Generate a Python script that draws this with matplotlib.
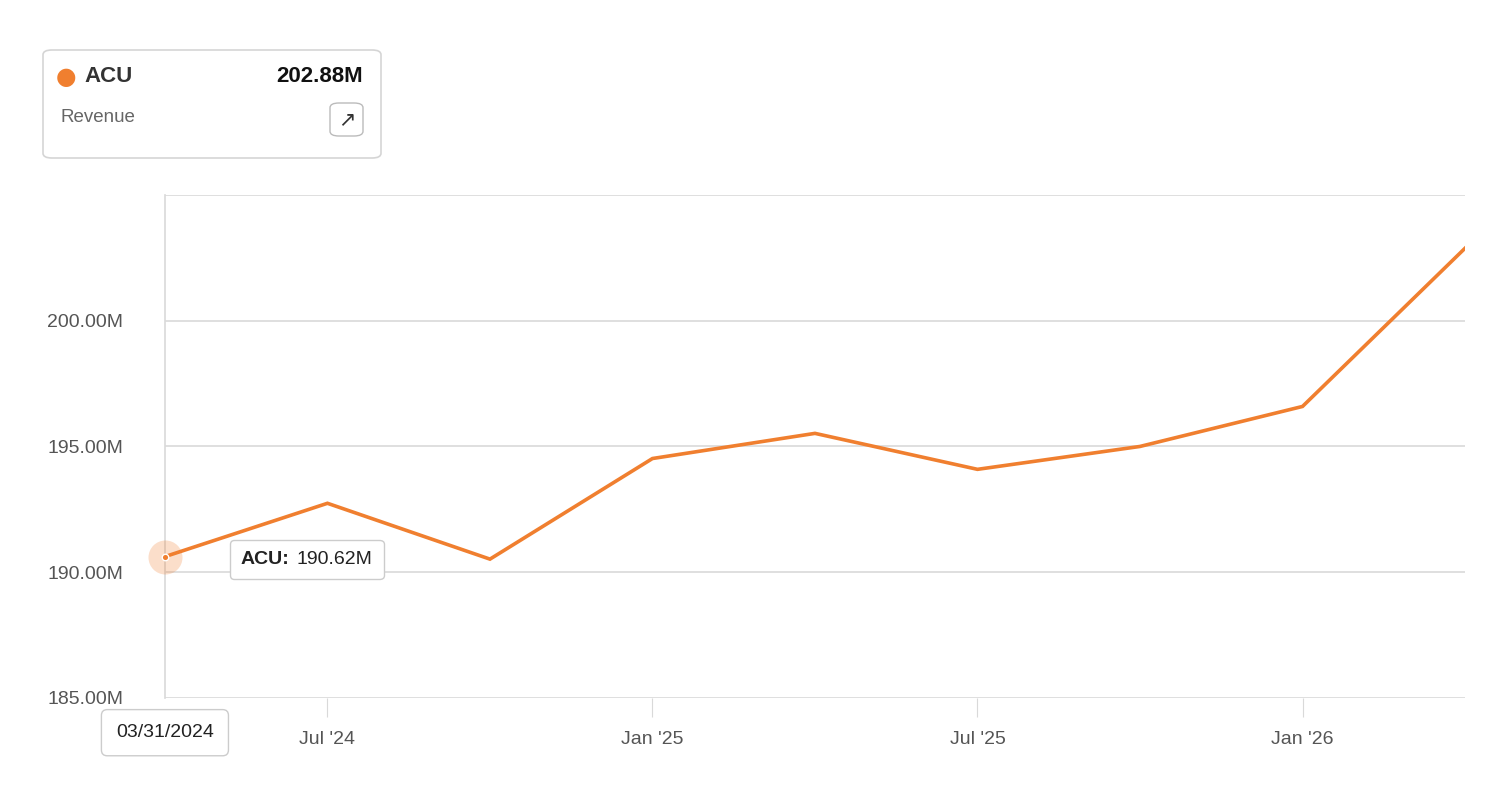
import matplotlib.pyplot as plt
from matplotlib.patches import FancyBboxPatch
from matplotlib.offsetbox import TextArea, HPacker, AnnotationBbox

plt.rcParams['font.family'] = ['Liberation Sans', 'DejaVu Sans']

quarters = ['03/31/2024', '06/30/2024', '09/30/2024', '12/31/2024', '03/31/2025',
            '06/30/2025', '09/30/2025', '12/31/2025', '03/31/2026']
revenue = [190.62, 192.74, 190.52, 194.52, 195.52, 194.09, 195.0, 196.59, 202.88]
tick_idx = [1, 3, 5, 7]
tick_labels = ["Jul '24", "Jan '25", "Jul '25", "Jan '26"]
y_ticks = [185, 190, 195, 200]

orange = '#f07f2f'
grid = '#d9d9d9'
txt = '#555555'

fig = plt.figure(figsize=(14.94, 7.86), dpi=100)
ax = fig.add_axes([0.1104, 0.112, 0.8702, 0.64])
x = list(range(len(revenue)))
ax.plot(x, revenue, color=orange, lw=2.6, solid_joinstyle='miter', zorder=3)
ax.set_xlim(0, len(revenue) - 1)
ax.set_ylim(185, 205)
ax.set_yticks(y_ticks)
ax.set_yticklabels([f'{v:.2f}M' for v in y_ticks], fontsize=14, color=txt)
ax.set_xticks(tick_idx)
ax.set_xticklabels(tick_labels, fontsize=14, color=txt)
ax.tick_params(axis='y', length=0, pad=30)
ax.tick_params(axis='x', length=14, color=grid, pad=10)
for v in y_ticks + [205]:
    ax.axhline(v, color=grid, lw=1.2, zorder=1)
for s in ['top', 'right', 'bottom']:
    ax.spines[s].set_visible(False)
ax.spines['left'].set_color(grid)
ax.spines['left'].set_linewidth(1.2)

# hover marker
ax.scatter([0], [revenue[0]], s=600, color=orange, alpha=0.25, zorder=4, clip_on=False, lw=0)
ax.scatter([0], [revenue[0]], s=22, color=orange, edgecolor='white', lw=1, zorder=5, clip_on=False)

# tooltip
tip = HPacker(children=[TextArea('ACU:', textprops=dict(fontsize=14, fontweight='bold', color='#222222')),
                        TextArea(f'{revenue[0]:.2f}M', textprops=dict(fontsize=14, color='#222222'))],
              sep=5, pad=0)
ab = AnnotationBbox(tip, (0, revenue[0]), xybox=(102, -2), xycoords='data', boxcoords='offset points',
                    frameon=True, pad=0.8, box_alignment=(0.5, 0.5), annotation_clip=False, zorder=6,
                    bboxprops=dict(boxstyle='round,pad=0.8,rounding_size=0.3', fc='white', ec='#cccccc', lw=1))
ax.add_artist(ab)
ax.annotate(quarters[0], xy=(0, 185), xytext=(0, -25), textcoords='offset points',
            fontsize=14, color='#222222', ha='center', va='center',
            bbox=dict(boxstyle='round,pad=0.75,rounding_size=0.3', fc='white', ec='#cccccc', lw=1), zorder=6,
            annotation_clip=False)

# legend card
card = FancyBboxPatch((43 / 1494, 1 - 158 / 786), 338 / 1494, 108 / 786,
                      boxstyle='round,pad=0,rounding_size=0.006', transform=fig.transFigure,
                      fc='white', ec='#d5d5d5', lw=1.2)
fig.patches.append(card)
fig.text(66 / 1494, 1 - 77 / 786, '●', color=orange, fontsize=17, va='center', ha='center',
         family='DejaVu Sans')
fig.text(84 / 1494, 1 - 77 / 786, 'ACU', fontsize=16, fontweight='bold', color='#333333', va='center')
fig.text(363 / 1494, 1 - 77 / 786, f'{revenue[-1]:.2f}M', fontsize=16, fontweight='bold',
         color='#111111', va='center', ha='right')
fig.text(61 / 1494, 1 - 118 / 786, 'Revenue', fontsize=13.5, color='#666666', va='center')
icon = FancyBboxPatch((330 / 1494, 1 - 136 / 786), 33 / 1494, 33 / 786,
                      boxstyle='round,pad=0,rounding_size=0.006', transform=fig.transFigure,
                      fc='white', ec='#bbbbbb', lw=1)
fig.patches.append(icon)
fig.text(346.5 / 1494, 1 - 119.5 / 786, '↗', fontsize=15, color='#333333', va='center', ha='center',
         family='DejaVu Sans')

fig.savefig('out.png', dpi=100)
